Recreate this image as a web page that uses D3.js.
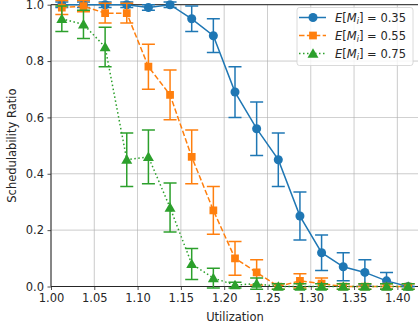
<!DOCTYPE html>
<html>
<head>
<meta charset="utf-8">
<script src="https://cdn.jsdelivr.net/npm/d3@7"></script>
<style>
  body { margin: 0; background: #fff; }
  svg { display: block; font-family: "DejaVu Sans", sans-serif; }
</style>
</head>
<body>
<div id="chart"></div>
<script>
// utilization values (bin centres)
var utilization = [1.0125, 1.0375, 1.0625, 1.0875, 1.1125, 1.1375, 1.1625, 1.1875, 1.2125,
                   1.2375, 1.2625, 1.2875, 1.3125, 1.3375, 1.3625, 1.3875, 1.4125];

var ratio035 = [1.00, 1.00, 1.00, 1.00, 0.99, 1.00, 0.95, 0.89, 0.69, 0.56, 0.45, 0.25, 0.12, 0.07, 0.05, 0.02, 0.00];
var err035   = [0.01, 0.01, 0.01, 0.01, 0.01, 0.01, 0.045, 0.06, 0.09, 0.095, 0.095, 0.085, 0.063, 0.05, 0.045, 0.03, 0.0];

var ratio055 = [0.99, 0.995, 0.97, 0.97, 0.78, 0.68, 0.46, 0.27, 0.10, 0.05, 0.00, 0.02, 0.01, 0.00, 0.00, 0.00, 0.00];
var err055   = [0.025, 0.02, 0.035, 0.035, 0.08, 0.088, 0.095, 0.085, 0.06, 0.045, 0.01, 0.025, 0.02, 0.01, 0.01, 0.01, 0.01];

var ratio075 = [0.95, 0.93, 0.85, 0.45, 0.46, 0.28, 0.08, 0.03, 0.005, 0.01, 0.00, 0.00, 0.00, 0.00, 0.00, 0.00, 0.00];
var err075   = [0.045, 0.05, 0.07, 0.095, 0.095, 0.087, 0.055, 0.035, 0.01, 0.02, 0.01, 0.01, 0.01, 0.01, 0.01, 0.01, 0.01];

var xTicks = [1.00, 1.05, 1.10, 1.15, 1.20, 1.25, 1.30, 1.35, 1.40];
var yTicks = [0.0, 0.2, 0.4, 0.6, 0.8, 1.0];

var seriesNames = ["0.35", "0.55", "0.75"];
var seriesColors = ["#1f77b4", "#ff7f0e", "#2ca02c"];

var w = 418, h = 332;
var padLeft = 51, padRight = 419, padTop = 4.7, padBottom = 286.5;

var svg = d3.select("#chart").append("svg")
            .attr("width", w)
            .attr("height", h);

var xScale = d3.scaleLinear().domain([1.0, 1.425]).range([padLeft, padRight]);
var yScale = d3.scaleLinear().domain([0, 1]).range([padBottom, padTop]);

svg.append("defs").append("clipPath").attr("id", "plotclip")
   .append("rect").attr("x", padLeft).attr("y", padTop - 8).attr("width", padRight - padLeft).attr("height", padBottom - padTop + 16);

// grid
var grid = svg.append("g");
grid.selectAll(".gx").data(xTicks).enter().append("line")
    .attr("x1", function(d) { return xScale(d); })
    .attr("x2", function(d) { return xScale(d); })
    .attr("y1", padTop).attr("y2", padBottom)
    .attr("stroke", "#b0b0b0").attr("stroke-width", 0.8).attr("opacity", 0.8);
grid.selectAll(".gy").data(yTicks).enter().append("line")
    .attr("x1", padLeft).attr("x2", padRight)
    .attr("y1", function(d) { return yScale(d); })
    .attr("y2", function(d) { return yScale(d); })
    .attr("stroke", "#b0b0b0").attr("stroke-width", 0.8).attr("opacity", 0.8);

// axes
var xAxis = d3.axisBottom(xScale).tickValues(xTicks).tickFormat(d3.format(".2f")).tickSize(3.5).tickPadding(3.5);
var yAxis = d3.axisLeft(yScale).tickValues(yTicks).tickFormat(d3.format(".1f")).tickSize(3.5).tickPadding(3.5);

var gx = svg.append("g").attr("transform", "translate(0," + padBottom + ")").call(xAxis);
var gy = svg.append("g").attr("transform", "translate(" + padLeft + ",0)").call(yAxis);
[gx, gy].forEach(function(g) {
  g.select(".domain").remove();
  g.selectAll("line").attr("stroke", "#262626").attr("stroke-width", 0.8);
  g.selectAll("text").attr("fill", "#262626").style("font-size", "11.5px").style("font-family", "DejaVu Sans");
});

// spines
svg.append("line").attr("x1", padLeft).attr("x2", padLeft).attr("y1", padTop).attr("y2", padBottom)
   .attr("stroke", "#262626").attr("stroke-width", 1);
svg.append("line").attr("x1", padLeft).attr("x2", padRight).attr("y1", padBottom).attr("y2", padBottom)
   .attr("stroke", "#262626").attr("stroke-width", 1);
svg.append("line").attr("x1", padLeft).attr("x2", padRight).attr("y1", padTop).attr("y2", padTop)
   .attr("stroke", "#262626").attr("stroke-width", 1);

// labels
svg.append("text").attr("x", (padLeft + padRight) / 2).attr("y", 321)
   .attr("text-anchor", "middle").attr("fill", "#262626").style("font-size", "11.5px")
   .text("Utilization");
svg.append("text").attr("transform", "translate(16," + ((padTop + padBottom) / 2) + ") rotate(-90)")
   .attr("text-anchor", "middle").attr("fill", "#262626").style("font-size", "11.5px")
   .text("Schedulability Ratio");

var allSeries = [
  { vals: ratio035, errs: err035, dash: null, marker: d3.symbolCircle, size: 64 },
  { vals: ratio055, errs: err055, dash: "5.5,2.4", marker: d3.symbolSquare, size: 60 },
  { vals: ratio075, errs: err075, dash: "1.5,2.5", marker: d3.symbolTriangle, size: 52 }
];

var plot = svg.append("g").attr("clip-path", "url(#plotclip)");
var line = d3.line()
             .x(function(d) { return xScale(d[0]); })
             .y(function(d) { return yScale(d[1]); });

allSeries.forEach(function(s, k) {
  var color = seriesColors[k];
  var pts = utilization.map(function(u, i) { return [u, s.vals[i], s.errs[i]]; });
  var g = plot.append("g");

  g.append("path").datum(pts)
   .attr("d", line)
   .attr("fill", "none")
   .attr("stroke", color)
   .attr("stroke-width", 1.5)
   .attr("stroke-dasharray", s.dash);

  var eb = g.selectAll(".eb").data(pts).enter().append("g");
  eb.append("line")
    .attr("x1", function(d) { return xScale(d[0]); })
    .attr("x2", function(d) { return xScale(d[0]); })
    .attr("y1", function(d) { return yScale(d[1] - d[2]); })
    .attr("y2", function(d) { return yScale(d[1] + d[2]); })
    .attr("stroke", color).attr("stroke-width", 1.5);
  [-1, 1].forEach(function(sign) {
    eb.append("line")
      .attr("x1", function(d) { return xScale(d[0]) - 6.5; })
      .attr("x2", function(d) { return xScale(d[0]) + 6.5; })
      .attr("y1", function(d) { return yScale(d[1] + sign * d[2]); })
      .attr("y2", function(d) { return yScale(d[1] + sign * d[2]); })
      .attr("stroke", color).attr("stroke-width", 1.5);
  });

  g.selectAll(".mk").data(pts).enter().append("path")
   .attr("d", d3.symbol().type(s.marker).size(s.size))
   .attr("transform", function(d) {
     var dy = s.marker === d3.symbolTriangle ? 1 : 0;
     return "translate(" + xScale(d[0]) + "," + (yScale(d[1]) + dy) + ")";
   })
   .attr("fill", color);
});

// legend
var lg = svg.append("g").attr("transform", "translate(297,7.5)");
lg.append("rect").attr("width", 116).attr("height", 58).attr("rx", 2.5)
  .attr("fill", "#fff").attr("fill-opacity", 0.8)
  .attr("stroke", "#d0d0d0").attr("stroke-width", 0.8);

allSeries.forEach(function(s, k) {
  var yy = 10 + k * 18;
  var color = seriesColors[k];
  lg.append("line").attr("x1", 2).attr("x2", 29).attr("y1", yy).attr("y2", yy)
    .attr("stroke", color).attr("stroke-width", 1.5).attr("stroke-dasharray", s.dash);
  lg.append("path").attr("d", d3.symbol().type(s.marker).size(s.size))
    .attr("transform", "translate(16," + (yy + (s.marker === d3.symbolTriangle ? 1 : 0)) + ")")
    .attr("fill", color);
  var t = lg.append("text").attr("x", 38).attr("y", yy + 4.2)
            .attr("fill", "#262626").style("font-size", "11.5px");
  t.append("tspan").style("font-style", "italic").text("E");
  t.append("tspan").text("[");
  t.append("tspan").style("font-style", "italic").text("M");
  t.append("tspan").style("font-style", "italic").style("font-size", "8px").attr("dy", 2.5).text("i");
  t.append("tspan").attr("dy", -2.5).text("]");
  t.append("tspan").text(" = " + seriesNames[k]);
});
</script>
</body>
</html>
